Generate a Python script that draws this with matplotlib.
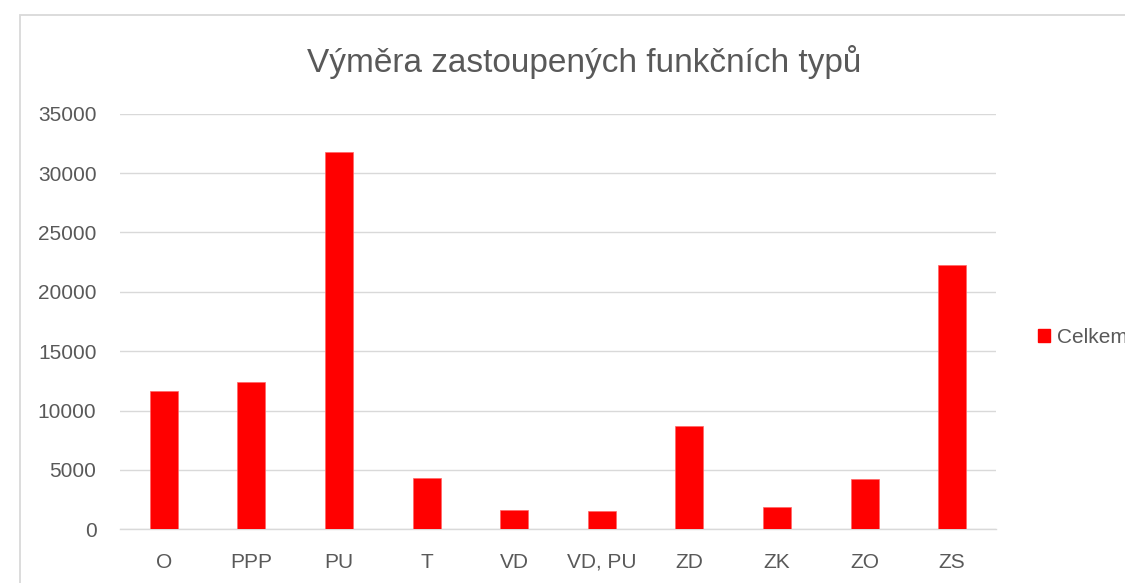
import matplotlib
matplotlib.use("Agg")
import matplotlib.pyplot as plt
from matplotlib.patches import Rectangle, Patch

categories = ["O", "PPP", "PU", "T", "VD", "VD, PU", "ZD", "ZK", "ZO", "ZS"]
values = [11630, 12390, 31750, 4360, 1660, 1550, 8680, 1910, 4240, 22250]
yticks = [0, 5000, 10000, 15000, 20000, 25000, 30000, 35000]
title = "Výměra zastoupených funkčních typů"
series_name = "Celkem"

W, H = 1125, 583
plt.rcParams['font.family'] = ['Liberation Sans', 'DejaVu Sans']
fig = plt.figure(figsize=(W / 100, H / 100), dpi=100)

# chart area border (extends beyond the image to right and bottom)
fig.patches.append(Rectangle((20 / W, -0.1), 1.2, 1 - 15 / H + 0.1,
                             transform=fig.transFigure, fill=False,
                             edgecolor='#d9d9d9', linewidth=1.3))

left, right = 120 / W, 996 / W
bottom, top = 1 - 529.3 / H, 1 - 113.7 / H
ax = fig.add_axes([left, bottom, right - left, top - bottom])

text_color = '#595959'
x = list(range(len(categories)))
ax.bar(x, values, width=0.32, color='#ff0000', edgecolor='#ff6666', linewidth=0.5, zorder=3)

ax.set_xlim(-0.5, len(categories) - 0.5)
ax.set_ylim(0, 35000)
ax.set_yticks(yticks)
ax.set_yticklabels([str(v) for v in yticks])
ax.set_xticks(x)
ax.set_xticklabels(categories)
ax.grid(axis='y', color='#d9d9d9', linewidth=1.0, zorder=0)
ax.set_axisbelow(True)
for s in ['top', 'right', 'left']:
    ax.spines[s].set_visible(False)
ax.spines['bottom'].set_color('#d9d9d9')
ax.spines['bottom'].set_linewidth(1.0)
ax.tick_params(axis='both', length=0, labelsize=15, colors=text_color)
ax.tick_params(axis='x', pad=17)
ax.tick_params(axis='y', pad=17)

fig.text(584 / W, 1 - 71.7 / H, title, ha='center', va='baseline',
         fontsize=24, color=text_color)

handle = Patch(facecolor='#ff0000', edgecolor='#ff0000')
fig.legend([handle], [series_name], loc='center left',
           bbox_to_anchor=(1037.5 / W, 1 - 337.5 / H), frameon=False,
           fontsize=15, handlelength=0.62, handleheight=0.62,
           handletextpad=0.3, labelcolor=text_color, borderaxespad=0,
           borderpad=0)

fig.savefig("out.png", dpi=100)
